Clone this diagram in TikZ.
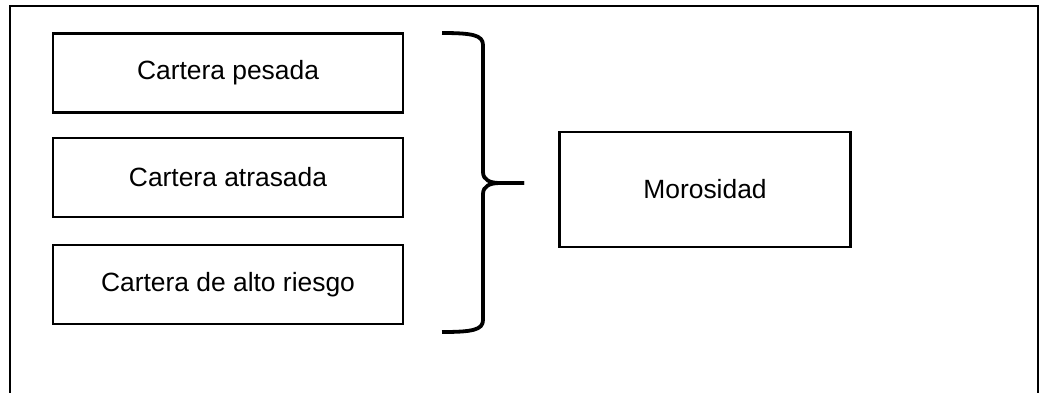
\documentclass[tikz,border=0pt]{standalone}
\usepackage{fontspec}
\setmainfont{Liberation Sans}
\begin{document}
\begin{tikzpicture}[x=1pt,y=-1pt,
  box/.style={draw,line width=2.6pt,minimum width=350pt,minimum height=79pt,inner sep=0pt,font=\fontsize{26.4}{30}\selectfont},
  bigbox/.style={box,minimum width=291pt,minimum height=115pt},
  bracestyle/.style={draw,line width=3.8pt,line cap=butt,line join=round}]
\useasboundingbox (0,0) rectangle (1048,392);
\fill[white] (0,0) rectangle (1048,392);
\draw[line width=2.8pt] (10,400) -- (10,6) -- (1038,6) -- (1038,400);
\node[box] (b1) at (228,73) {Cartera pesada};
\node[box] (b2) at (228,177.5) {Cartera atrasada};
\node[box] (b3) at (228,284.5) {Cartera de alto riesgo};
\node[bigbox] (m) at (705,189.5) {Morosidad};
\coordinate (tip) at (524,183);
\draw[bracestyle] (442,33) .. controls (472,33) and (483,35) .. (483,45) -- (483,172)
  .. controls (483,180) and (490,183) .. (500,183) -- (tip);
\draw[bracestyle] (tip) -- (500,183) .. controls (490,183) and (483,186) .. (483,194)
  -- (483,320) .. controls (483,330) and (472,332) .. (442,332);
\end{tikzpicture}
\end{document}
